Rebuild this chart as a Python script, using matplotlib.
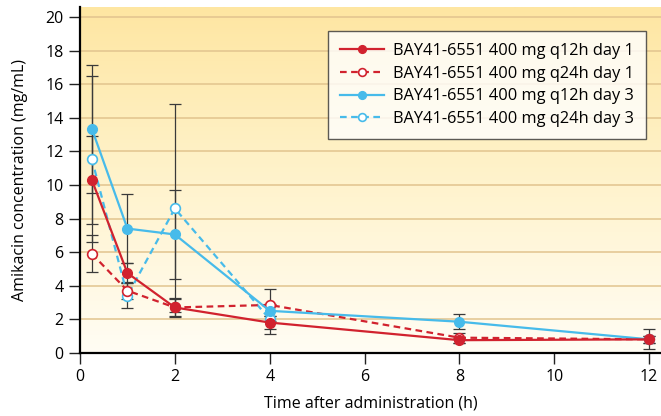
import numpy as np
import matplotlib.pyplot as plt
from matplotlib.colors import LinearSegmentedColormap

plt.rcParams['font.family'] = ['Open Sans', 'DejaVu Sans']

# =========================
# DATA
# =========================

time_h = [0.25, 1, 2, 4, 8, 12]
time_h_d3_q24 = [0.25, 1, 2, 4]

q12_day1 = [10.3, 4.75, 2.7, 1.8, 0.75, 0.8]
q12_day1_sd = [2.63, 0.6, 0.55, 0.4, 0.15, 0.2]

q24_day1 = [5.9, 3.7, 2.7, 2.85, 0.9, 0.8]
q24_day1_sd = [1.1, 0.5, 0.5, 0.95, 0.3, 0.2]

q12_day3 = [13.35, 7.4, 7.05, 2.5, 1.85, 0.8]
q12_day3_sd = [3.8, 2.04, 2.65, 0.3, 0.45, 0.6]

q24_day3 = [11.55, 3.4, 8.6, 2.0]
q24_day3_sd = [4.95, 0.75, 6.2, 0.9]

labels = [
    "BAY41-6551 400 mg q12h day 1",
    "BAY41-6551 400 mg q24h day 1",
    "BAY41-6551 400 mg q12h day 3",
    "BAY41-6551 400 mg q24h day 3",
]

RED = "#d1222e"
BLUE = "#47bbea"
ERR = "#3a3a3a"

# =========================
# FIGURE
# =========================

fig = plt.figure(figsize=(6.61, 4.16), dpi=100)
ax = fig.add_axes([0.121, 0.152, 0.879, 0.831])

ax.set_xlim(0, 12.25)
ax.set_ylim(0, 20.6)

# background gradient (white at bottom -> pale yellow at top)
cmap = LinearSegmentedColormap.from_list("bg", ["#fffdf4", "#fff3cc", "#fee6a2"])
grad = np.linspace(0, 1, 256).reshape(-1, 1)
ax.imshow(grad, aspect="auto", cmap=cmap, origin="lower",
          extent=[0, 12.25, 0, 20.6], zorder=0)

for y in np.arange(2, 21, 2):
    ax.axhline(y, color="#e2c48e", lw=1.1, zorder=1)

# error bars
series = [
    (time_h_d3_q24, q24_day3, q24_day3_sd),
    (time_h, q24_day1, q24_day1_sd),
    (time_h, q12_day3, q12_day3_sd),
    (time_h, q12_day1, q12_day1_sd),
]
for t, v, sd in series:
    ax.errorbar(t, v, yerr=sd, fmt="none", ecolor=ERR, elinewidth=0.9,
                capsize=4, capthick=0.9, zorder=2)

# lines
l4, = ax.plot(time_h_d3_q24, q24_day3, ls=(0, (3, 2)), color=BLUE, lw=1.6,
              marker="o", ms=7, mfc="white", mec=BLUE, mew=1.2, zorder=3)
l2, = ax.plot(time_h, q24_day1, ls=(0, (3, 2)), color=RED, lw=1.6,
              marker="o", ms=7, mfc="white", mec=RED, mew=1.2, zorder=4)
l3, = ax.plot(time_h, q12_day3, ls="-", color=BLUE, lw=1.6,
              marker="o", ms=7, mfc=BLUE, mec=BLUE, zorder=5)
l1, = ax.plot(time_h, q12_day1, ls="-", color=RED, lw=1.6,
              marker="o", ms=7, mfc=RED, mec=RED, zorder=6)

leg = ax.legend([l1, l2, l3, l4], labels, loc="upper right",
                bbox_to_anchor=(0.974, 0.931), fontsize=11.8,
                frameon=True, fancybox=False, edgecolor="#333333",
                handlelength=2.7, handletextpad=0.5, labelspacing=0.4,
                borderpad=0.75, borderaxespad=0, markerscale=0.8)
leg.get_frame().set_linewidth(1.0)
leg.set_zorder(10)

# axes styling
ax.spines["top"].set_visible(False)
ax.spines["right"].set_visible(False)
ax.spines["left"].set_linewidth(1.6)
ax.spines["bottom"].set_linewidth(1.6)
ax.set_xticks(np.arange(0, 13, 2))
ax.set_yticks(np.arange(0, 21, 2))
ax.tick_params(axis="both", direction="out", length=8, width=1.0,
               labelsize=11.5, color="#222222", pad=4)

ax.set_xlabel("Time after administration (h)", fontsize=11.5, labelpad=7)
ax.set_ylabel("Amikacin concentration (mg/mL)", fontsize=11.5, labelpad=12)

fig.savefig("out.png", dpi=100)
